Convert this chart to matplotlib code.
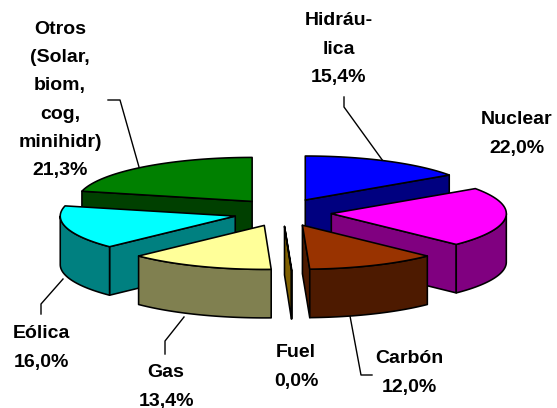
import numpy as np
import matplotlib
matplotlib.use("Agg")
import matplotlib.pyplot as plt
from matplotlib.patches import Polygon

names = ["Hidráu-\nlica", "Nuclear", "Carbón", "Fuel", "Gas", "Eólica",
         "Otros\n(Solar,\nbiom,\ncog,\nminihidr)"]
values = [15.4, 22.0, 12.0, 0.04, 13.4, 16.0, 21.3]
top_colors = ["#0000FF", "#FF00FF", "#993300", "#806000", "#FFFF99", "#00FFFF", "#008000"]
side_colors = ["#000080", "#800080", "#4D1A00", "#806000", "#808050", "#008080", "#004000"]
draw_order = [6, 0, 5, 1, 4, 3, 2]

label_xy = [(339, 49), (517, 134), (409, 373), (296, 367), (166, 387), (41, 348), (60, 100)]
leaders = [[(383, 161), (344, 107), (344, 97)],
           None,
           [(350, 316), (361, 375), (372, 375)],
           None,
           [(184, 317), (165, 341), (165, 354)],
           [(63, 279), (41, 304), (41, 314)],
           [(139, 167), (120, 100), (108, 100)]]

CX, CY, RX, RY, DEPTH = 282.5, 212.4, 175, 44, 48.5
OFF_X, OFF_Y = 49, 14
EDGE = dict(edgecolor="black", linewidth=1.15, joinstyle="round")

fig = plt.figure(figsize=(5.57, 4.08), dpi=100)
ax = fig.add_axes([0, 0, 1, 1])
ax.set_xlim(0, 557)
ax.set_ylim(408, 0)
ax.axis("off")

frac = np.array(values) / np.sum(values) * 360
edges = np.concatenate([[0], np.cumsum(frac)])


def rim(ox, oy, a0, a1, dz=0):
    t = np.radians(np.linspace(a0, a1, max(2, int(abs(a1 - a0)) + 2)))
    return np.column_stack([ox + RX * np.sin(t), oy - RY * np.cos(t) + dz])


for i in draw_order:
    a0, a1 = edges[i], edges[i + 1]
    mid = np.radians((a0 + a1) / 2)
    ox = CX + OFF_X * np.sin(mid)
    oy = CY - OFF_Y * np.cos(mid)
    z = 1 + draw_order.index(i)
    apex = np.array([ox, oy])

    # radial walls facing the viewer
    for ang, visible in ((a0, np.sin(np.radians(a0)) < 0), (a1, np.sin(np.radians(a1)) > 0)):
        if visible:
            p = rim(ox, oy, ang, ang)[0]
            wall = [apex, p, p + [0, DEPTH], apex + [0, DEPTH]]
            ax.add_patch(Polygon(wall, closed=True, facecolor=side_colors[i], zorder=z, **EDGE))

    # curved front wall
    lo, hi = max(a0, 90), min(a1, 270)
    if lo < hi:
        upper = rim(ox, oy, lo, hi)
        lower = rim(ox, oy, hi, lo, DEPTH)
        ax.add_patch(Polygon(np.vstack([upper, lower]), closed=True,
                             facecolor=side_colors[i], zorder=z, **EDGE))

    # top face
    ax.add_patch(Polygon(np.vstack([apex, rim(ox, oy, a0, a1)]), closed=True,
                         facecolor=top_colors[i], zorder=z, **EDGE))

    # label and leader
    pct = f"{values[i]:.1f}%".replace(".", ",")
    ax.text(*label_xy[i], f"{names[i]}\n{pct}", ha="center", va="center", ma="center",
            family="Liberation Sans", weight="bold", fontsize=14, linespacing=1.85,
            color="black", zorder=20)
    if leaders[i]:
        xs, ys = zip(*leaders[i])
        ax.plot(xs, ys, color="black", lw=1.0, zorder=0.5)

fig.savefig("out.png", dpi=100, facecolor="white")
